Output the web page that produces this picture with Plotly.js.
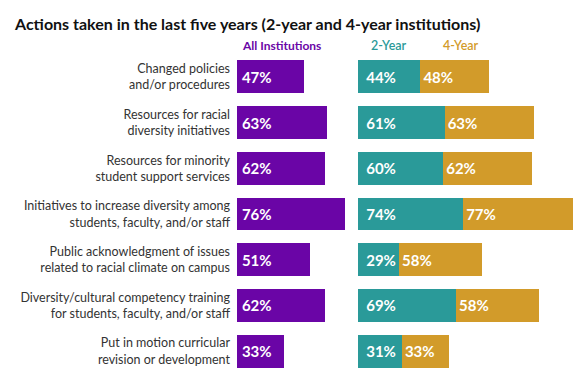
<!DOCTYPE html>
<html>
<head>
<meta charset="utf-8">
<script src="https://cdn.plot.ly/plotly-3.0.1.min.js"></script>
<style>html,body{margin:0;padding:0;background:#fff;}#chart{width:585px;height:382px;}</style>
</head>
<body>
<div id="chart"></div>
<script>
var categories = [
  "Changed policies<br>and/or procedures",
  "Resources for racial<br>diversity initiatives",
  "Resources for minority<br>student support services",
  "Initiatives to increase diversity among<br>students, faculty, and/or staff",
  "Public acknowledgment of issues<br>related to racial climate on campus",
  "Diversity/cultural competency training<br>for students, faculty, and/or staff",
  "Put in motion curricular<br>revision or development"
];
var allInstitutions = [47, 63, 62, 76, 51, 62, 33];
var twoYear = [44, 61, 60, 74, 29, 69, 31];
var fourYear = [48, 63, 62, 77, 58, 58, 33];

var PURPLE = "#6a05a6", TEAL = "#2a9a99", GOLD = "#d29b2a";
var W = 585, H = 382;
var pxPerUnit = 1.425;
var leftStart = 237, rightStart = 357.7;
var leftRange = 80;
var rightRange = (W - rightStart) / pxPerUnit;
var FONT = "Lato, 'Open Sans', sans-serif";

var valFont = {family: FONT, size: 15, color: "#ffffff", weight: 700};

function pct(a, pad){ return a.map(function(v){ return pad + v + "%"; }); }

var traces = [
  {type: "bar", orientation: "h", y: categories, x: allInstitutions, xaxis: "x", yaxis: "y",
   marker: {color: PURPLE}, text: pct(allInstitutions, "\u2009"), textposition: "inside", insidetextanchor: "start",
   textfont: valFont, hoverinfo: "skip", name: "All Institutions"},
  {type: "bar", orientation: "h", y: categories, x: twoYear, xaxis: "x2", yaxis: "y2",
   marker: {color: TEAL}, text: pct(twoYear, "\u00a0\u2009"), textposition: "inside", insidetextanchor: "start",
   textfont: valFont, hoverinfo: "skip", name: "2-Year"},
  {type: "bar", orientation: "h", y: categories, x: fourYear, xaxis: "x2", yaxis: "y2",
   marker: {color: GOLD}, text: pct(fourYear, ""), textposition: "inside", insidetextanchor: "start",
   textfont: valFont, hoverinfo: "skip", name: "4-Year"}
];

var plotH = H - 54 - 8;
function yPaper(px){ return (H - 8 - px) / plotH; }

var layout = {
  width: W, height: H,
  margin: {l: 0, r: 0, t: 54, b: 8, pad: 0},
  paper_bgcolor: "#ffffff", plot_bgcolor: "rgba(0,0,0,0)",
  showlegend: false,
  barmode: "stack",
  bargap: 0.28,
  title: {text: "Actions taken in the last five years (2-year and 4-year institutions)",
          x: 15 / W, xanchor: "left", xref: "container",
          y: 1 - 24 / H, yanchor: "middle", yref: "container",
          font: {family: FONT, size: 16, color: "#111111", weight: 700}},
  xaxis: {domain: [leftStart / W, (leftStart + leftRange * pxPerUnit) / W], range: [0, leftRange],
          visible: false, fixedrange: true},
  xaxis2: {domain: [rightStart / W, 1], range: [0, rightRange], visible: false, anchor: "y2", fixedrange: true},
  yaxis: {type: "category", autorange: "reversed", anchor: "x", showgrid: false, zeroline: false,
          showline: false, ticks: "", ticklabelstandoff: 6,
          tickfont: {family: FONT, size: 12.5, color: "#333333"}},
  yaxis2: {type: "category", autorange: "reversed", anchor: "x2", matches: "y", showticklabels: false,
           showgrid: false, zeroline: false, showline: false, ticks: ""},
  annotations: [
    {text: "<b>All Institutions</b>", xref: "paper", yref: "paper", x: 281 / W, y: yPaper(45), xanchor: "center", yanchor: "middle",
     showarrow: false, font: {family: FONT, size: 12, color: PURPLE}},
    {text: "2-Year", xref: "paper", yref: "paper", x: 389 / W, y: yPaper(45), xanchor: "center", yanchor: "middle",
     showarrow: false, font: {family: FONT, size: 12.5, color: TEAL, weight: 600}},
    {text: "4-Year", xref: "paper", yref: "paper", x: 461 / W, y: yPaper(45), xanchor: "center", yanchor: "middle",
     showarrow: false, font: {family: FONT, size: 12.5, color: GOLD, weight: 600}}
  ]
};

Plotly.newPlot("chart", traces, layout, {displayModeBar: false, staticPlot: true});
</script>
</body>
</html>
